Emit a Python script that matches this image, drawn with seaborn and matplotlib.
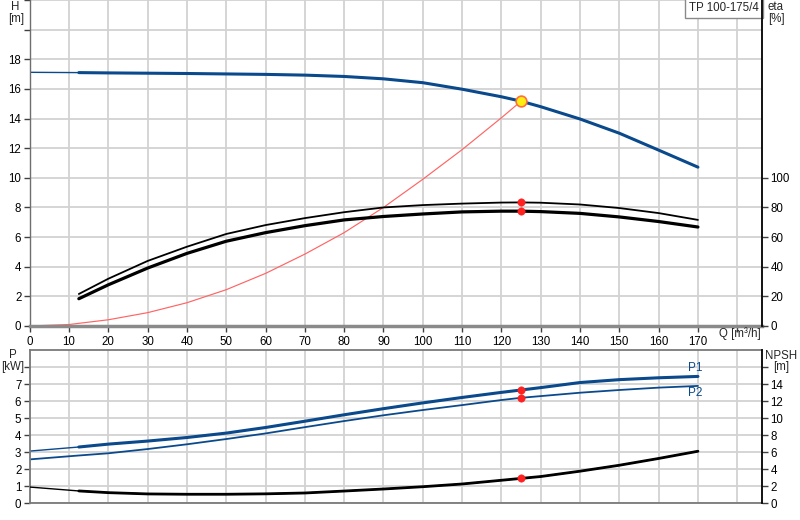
import matplotlib
matplotlib.use("Agg")
import matplotlib.pyplot as plt
import seaborn as sns

# ---------------- data ----------------
q_h = [0, 12.5, 20, 30, 40, 50, 60, 70, 80, 90, 100, 110, 120, 125, 130, 140, 150, 160, 170]
head = [17.12, 17.1, 17.08, 17.06, 17.04, 17.01, 16.98, 16.93, 16.84, 16.68, 16.42, 15.98, 15.47,
        15.17, 14.8, 13.97, 13.01, 11.87, 10.72]

q_sys = [0, 10, 20, 30, 40, 50, 60, 70, 80, 90, 100, 110, 120, 125]
h_sys = [0, 0.1, 0.42, 0.9, 1.57, 2.45, 3.55, 4.85, 6.3, 8.0, 9.9, 11.9, 14.05, 15.17]

q_eta = [12.5, 20, 30, 40, 50, 60, 70, 80, 90, 100, 110, 120, 125, 130, 140, 150, 160, 170]
eta_pump = [21.6, 31.9, 43.9, 53.5, 62.1, 68.1, 72.8, 76.8, 80.0, 81.6, 82.6, 83.3, 83.4, 83.2,
            82.0, 79.6, 76.2, 71.6]
eta_total = [18.4, 27.8, 39.1, 49.0, 57.2, 63.0, 67.7, 71.6, 73.9, 75.6, 77.0, 77.5, 77.5, 77.2,
             76.0, 73.6, 70.5, 66.8]

q_p = [0, 12.5, 20, 30, 40, 50, 60, 70, 80, 90, 100, 110, 120, 125, 130, 140, 150, 160, 170]
p1 = [3.06, 3.3, 3.47, 3.65, 3.86, 4.12, 4.45, 4.82, 5.2, 5.56, 5.9, 6.22, 6.52, 6.66, 6.8,
      7.1, 7.27, 7.38, 7.46]
p2 = [2.57, 2.8, 2.93, 3.18, 3.46, 3.77, 4.1, 4.47, 4.83, 5.17, 5.48, 5.77, 6.07, 6.2, 6.3,
      6.5, 6.66, 6.8, 6.9]
npsh = [1.88, 1.42, 1.22, 1.07, 1.03, 1.03, 1.08, 1.18, 1.41, 1.65, 1.92, 2.24, 2.68, 2.9, 3.12,
        3.75, 4.45, 5.25, 6.1]

duty_q = [125]
duty_h = [15.17]
duty_eta = [83.4, 77.5]
duty_p = [6.66, 6.2]
duty_npsh = [2.9]

x_ticks = list(range(0, 190, 10))
x_labels = [str(v) if v <= 170 else "" for v in x_ticks]
h_ticks = list(range(0, 24, 2))
h_labels = [str(v) if v <= 18 else "" for v in h_ticks]
eta_ticks = list(range(0, 120, 20))
p_ticks = list(range(0, 9))
p_labels = [str(v) if v <= 7 else "" for v in p_ticks]
npsh_ticks = list(range(0, 18, 2))
npsh_labels = [str(v) if v <= 14 else "" for v in npsh_ticks]

# ---------------- style ----------------
sns.set_theme(style="white")
plt.rcParams["font.family"] = ["Liberation Sans", "DejaVu Sans"]

BLUE = "#0a4a8c"
GRID = "#d2d2d2"
RED = "#ff2020"

W, Hpx = 800, 520
fig = plt.figure(figsize=(8, 5.2), dpi=100)


def box(l, t, r, b):
    return [l / W, 1 - b / Hpx, (r - l) / W, (b - t) / Hpx]


ax1 = fig.add_axes(box(29.7, 0, 762, 326))
ax1r = ax1.twinx()
ax2 = fig.add_axes(box(29.7, 350.3, 762, 503))
ax2r = ax2.twinx()

XMAX = 186.3
for a in (ax1, ax2):
    a.set_xlim(0, XMAX)
    a.set_xticks(x_ticks)
    a.grid(True, color=GRID, linewidth=1.3)
    a.set_axisbelow(True)

ax1.set_ylim(0, 22)
ax1.set_yticks(h_ticks)
ax1.set_yticklabels(h_labels)
ax1r.set_ylim(0, 220)
ax1r.set_yticks(eta_ticks)
ax1.set_xticklabels(x_labels)

ax2.set_ylim(0, 9)
ax2.set_yticks(p_ticks)
ax2.set_yticklabels(p_labels)
ax2r.set_ylim(0, 18)
ax2r.set_yticks(npsh_ticks)
ax2r.set_yticklabels(npsh_labels)
ax2.set_xticklabels([])

# ---------------- top panel ----------------
sns.lineplot(x=q_h, y=head, ax=ax1, color=BLUE, linewidth=1.0, estimator=None, sort=False)
sns.lineplot(x=q_h[1:], y=head[1:], ax=ax1, color=BLUE, linewidth=2.2, estimator=None, sort=False)
sns.lineplot(x=q_sys, y=h_sys, ax=ax1, color="#ff6464", linewidth=0.85, estimator=None, sort=False)
sns.scatterplot(x=duty_q, y=duty_h, ax=ax1, color="#ffee10", edgecolor="#ff7040", linewidth=1.2,
                s=60, zorder=6)

sns.lineplot(x=q_eta, y=eta_pump, ax=ax1r, color="black", linewidth=1.3, estimator=None, sort=False)
sns.lineplot(x=q_eta, y=eta_total, ax=ax1r, color="black", linewidth=2.3, estimator=None, sort=False)
sns.scatterplot(x=duty_q * 2, y=duty_eta, ax=ax1r, color=RED, edgecolor=RED, s=28, zorder=6)

# ---------------- bottom panel ----------------
sns.lineplot(x=q_p, y=p1, ax=ax2, color=BLUE, linewidth=1.0, estimator=None, sort=False)
sns.lineplot(x=q_p[1:], y=p1[1:], ax=ax2, color=BLUE, linewidth=2.2, estimator=None, sort=False)
sns.lineplot(x=q_p, y=p2, ax=ax2, color=BLUE, linewidth=1.3, estimator=None, sort=False)
sns.scatterplot(x=duty_q * 2, y=duty_p, ax=ax2, color=RED, edgecolor=RED, s=28, zorder=6)

sns.lineplot(x=q_p, y=npsh, ax=ax2r, color="black", linewidth=1.0, estimator=None, sort=False)
sns.lineplot(x=q_p[1:], y=npsh[1:], ax=ax2r, color="black", linewidth=2.0, estimator=None, sort=False)
sns.scatterplot(x=duty_q, y=duty_npsh, ax=ax2r, color=RED, edgecolor=RED, s=28, zorder=6)

ax2.text(169.3, 7.94, "P1", color=BLUE, fontsize=8.5, ha="center", va="center")
ax2.text(169.3, 6.5, "P2", color=BLUE, fontsize=8.5, ha="center", va="center")

# ---------------- axes styling ----------------
for a in (ax1, ax1r, ax2, ax2r):
    a.set_xlabel("")
    a.set_ylabel("")
    for s in a.spines.values():
        s.set_visible(False)

ax1.spines["left"].set_visible(True)
ax1.spines["left"].set_color("#6e6e6e")
ax1.spines["left"].set_linewidth(1.0)
ax1.spines["bottom"].set_visible(True)
ax1.spines["bottom"].set_color("#8a8a8a")
ax1.spines["bottom"].set_linewidth(2.5)
ax1r.spines["right"].set_visible(True)
ax1r.spines["right"].set_color("black")
ax1r.spines["right"].set_linewidth(1.3)

for side in ("left", "bottom", "top"):
    ax2.spines[side].set_visible(True)
    ax2.spines[side].set_color("#7a7a7a")
    ax2.spines[side].set_linewidth(1.3)
ax2r.spines["right"].set_visible(True)
ax2r.spines["right"].set_color("black")
ax2r.spines["right"].set_linewidth(1.3)

tick_kw = dict(labelsize=8.3, length=4, width=1, color="#404040", labelcolor="black", pad=2)
ax1.tick_params(axis="y", left=True, direction="out", **tick_kw)
ax1.tick_params(axis="x", bottom=True, direction="out", **tick_kw)
ax1r.tick_params(axis="y", right=True, direction="out", **tick_kw)
ax2.tick_params(axis="y", left=True, direction="out", **tick_kw)
ax2.tick_params(axis="x", bottom=False, length=0)
ax2r.tick_params(axis="y", right=True, direction="out", **tick_kw)
ax1.tick_params(axis="x", pad=3)


def ftext(x, y, s, **kw):
    fig.text(x / W, 1 - y / Hpx, s, ha="center", va="center", fontsize=8.3, **kw)


ftext(15, 7, "H")
ftext(16, 19, "[m]")
ftext(776, 7, "eta")
ftext(776, 19, "[%]")
ftext(740, 334, "Q [m³/h]")
ftext(13, 355, "P")
ftext(13, 367, "[kW]")
ftext(781, 356, "NPSH")
ftext(781, 367, "[m]")

ax1.text(0.996, 0.994, "TP 100-175/4", transform=ax1.transAxes, ha="right", va="top",
         fontsize=8.3, zorder=10,
         bbox=dict(boxstyle="square,pad=0.35", facecolor="white", edgecolor="#8a8a8a", linewidth=1))

fig.savefig("out.png", dpi=100)
